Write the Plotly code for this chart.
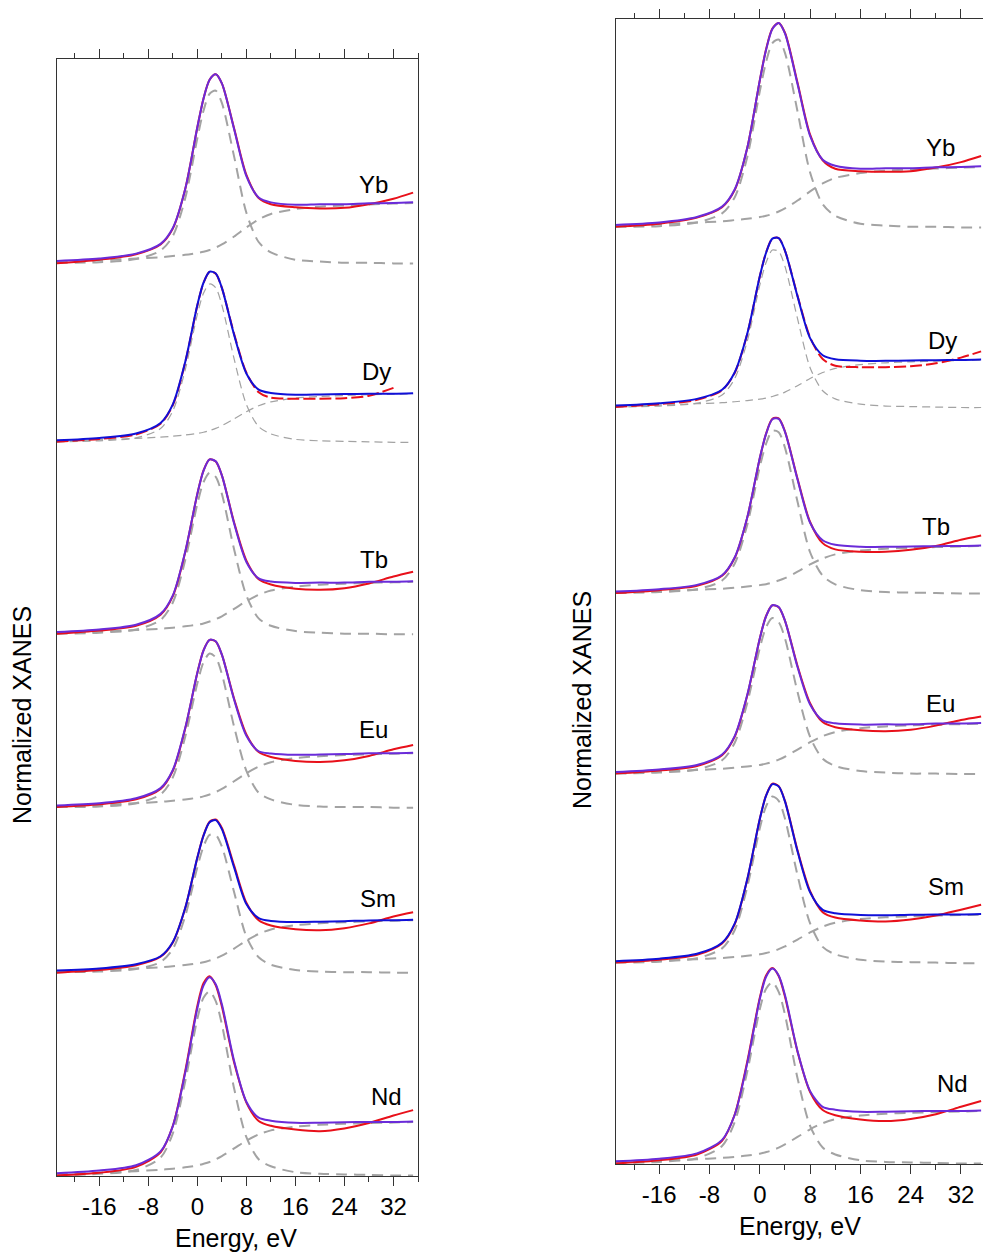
import plotly.graph_objects as go

# ---------------- data (normalized XANES, edge step ~ 1) ----------------
energy = [-23, -16, -10, -6, -4, -2, 0, 1, 2, 3, 4, 6, 8, 10, 12, 16, 20, 24, 28, 32, 35.2]
elements = ["Yb", "Dy", "Tb", "Eu", "Sm", "Nd"]
x_ticks = [-16, -8, 0, 8, 16, 24, 32]

# ---- left panel ----
L_Yb_data = [0.01,0.07,0.16,0.32,0.58,1.22,2.24,2.71,3.02,3.11,2.96,2.22,1.46,1.08,0.98,0.93,0.91,0.92,0.98,1.07,1.17]
L_Yb_peak = [0.02,0.03,0.08,0.22,0.46,1.07,2.06,2.51,2.79,2.84,2.64,1.76,0.84,0.36,0.19,0.07,0.04,0.02,0.02,0.01,0.01]
L_Yb_step = [0.03,0.06,0.09,0.11,0.13,0.15,0.18,0.20,0.23,0.27,0.32,0.45,0.60,0.73,0.82,0.90,0.94,0.96,0.975,0.99,1.0]

L_Dy_data = [0.02,0.08,0.17,0.39,0.77,1.63,2.80,3.26,3.49,3.45,3.16,2.22,1.43,1.03,0.92,0.90,0.90,0.91,0.96,1.12,None]
L_Dy_peak = [0.02,0.04,0.10,0.29,0.65,1.48,2.62,3.05,3.24,3.16,2.81,1.71,0.78,0.33,0.18,0.07,0.04,0.03,0.02,0.01,0.01]
L_Dy_step = [0.03,0.06,0.09,0.115,0.135,0.16,0.19,0.215,0.25,0.295,0.35,0.49,0.635,0.755,0.835,0.91,0.945,0.965,0.98,0.99,1.0]

L_Tb_data = [0.02,0.08,0.17,0.38,0.73,1.55,2.66,3.10,3.31,3.27,3.01,2.12,1.40,1.05,0.95,0.87,0.85,0.88,0.97,1.10,1.19]
L_Tb_peak = [0.02,0.04,0.10,0.28,0.61,1.40,2.47,2.88,3.06,2.98,2.66,1.61,0.74,0.31,0.17,0.07,0.04,0.02,0.02,0.01,0.01]
L_Tb_step = [0.03,0.06,0.09,0.115,0.135,0.16,0.19,0.215,0.25,0.295,0.35,0.49,0.635,0.755,0.835,0.91,0.945,0.965,0.98,0.99,1.0]

L_Eu_data = [0.02,0.07,0.16,0.35,0.68,1.44,2.46,2.87,3.06,3.03,2.79,1.99,1.34,1.02,0.93,0.86,0.84,0.87,0.95,1.07,1.15]
L_Eu_peak = [0.02,0.03,0.09,0.25,0.56,1.29,2.27,2.65,2.81,2.74,2.44,1.48,0.68,0.28,0.16,0.06,0.03,0.02,0.02,0.01,0.01]
L_Eu_step = [0.03,0.06,0.09,0.115,0.135,0.16,0.19,0.215,0.25,0.295,0.35,0.49,0.635,0.755,0.835,0.91,0.945,0.965,0.98,0.99,1.0]

L_Sm_data = [0.01,0.06,0.15,0.31,0.58,1.22,2.18,2.60,2.86,2.90,2.74,2.03,1.33,1.00,0.90,0.83,0.81,0.85,0.94,1.07,1.15]
L_Sm_peak = [0.02,0.03,0.08,0.21,0.46,1.07,2.00,2.39,2.61,2.61,2.39,1.53,0.69,0.30,0.16,0.06,0.03,0.02,0.02,0.01,0.01]
L_Sm_step = [0.03,0.06,0.09,0.11,0.13,0.155,0.185,0.205,0.24,0.28,0.33,0.465,0.615,0.74,0.825,0.905,0.942,0.962,0.977,0.99,1.0]

L_Nd_data = [0.01,0.06,0.17,0.44,0.93,1.93,3.15,3.57,3.70,3.53,3.14,2.10,1.36,1.02,0.93,0.86,0.83,0.88,0.98,1.12,1.22]
L_Nd_peak = [0.02,0.04,0.11,0.34,0.79,1.74,2.91,3.30,3.42,3.24,2.81,1.62,0.72,0.31,0.18,0.07,0.04,0.03,0.02,0.01,0.01]
L_Nd_step = [0.03,0.06,0.09,0.115,0.135,0.16,0.195,0.225,0.26,0.31,0.37,0.51,0.655,0.77,0.845,0.915,0.948,0.967,0.98,0.99,1.0]

L_offsets = [15.2, 12.22, 9.02, 6.13, 3.38, 0.0]
L_scales = [1.017, 0.817, 0.883, 0.917, 0.883, 0.9]
L_label_x = [28.7, 29.3, 28.8, 28.8, 29.5, 30.8]
L_label_y = [16.52, 13.4, 10.28, 7.45, 4.62, 1.33]

# ---- right panel ----
R_Yb_data = [0.02,0.07,0.17,0.34,0.62,1.31,2.42,2.93,3.27,3.36,3.20,2.38,1.53,1.11,0.97,0.93,0.92,0.93,0.99,1.08,1.18]
R_Yb_peak = [0.02,0.03,0.09,0.24,0.50,1.16,2.24,2.72,3.03,3.09,2.87,1.91,0.91,0.39,0.20,0.07,0.04,0.02,0.02,0.01,0.01]
R_Yb_step = [0.03,0.06,0.09,0.11,0.13,0.15,0.18,0.20,0.23,0.27,0.32,0.45,0.60,0.73,0.82,0.90,0.94,0.96,0.975,0.99,1.0]

R_Dy_data = [0.02,0.08,0.17,0.37,0.73,1.54,2.74,3.24,3.53,3.54,3.28,2.34,1.47,1.02,0.88,0.85,0.85,0.87,0.93,1.05,1.18]
R_Dy_peak = [0.02,0.04,0.10,0.27,0.61,1.39,2.56,3.03,3.29,3.26,2.95,1.86,0.84,0.36,0.19,0.08,0.04,0.03,0.02,0.01,0.01]
R_Dy_step = [0.03,0.06,0.09,0.11,0.13,0.155,0.185,0.205,0.24,0.28,0.33,0.465,0.615,0.74,0.825,0.905,0.942,0.962,0.977,0.99,1.0]

R_Tb_data = [0.02,0.08,0.17,0.38,0.75,1.59,2.83,3.34,3.65,3.66,3.39,2.40,1.50,1.06,0.93,0.88,0.88,0.92,1.00,1.13,1.22]
R_Tb_peak = [0.02,0.04,0.10,0.28,0.63,1.44,2.65,3.13,3.40,3.37,3.05,1.92,0.87,0.38,0.20,0.08,0.04,0.03,0.02,0.01,0.01]
R_Tb_step = [0.03,0.06,0.09,0.11,0.13,0.155,0.185,0.205,0.24,0.28,0.33,0.465,0.615,0.74,0.825,0.905,0.942,0.962,0.977,0.99,1.0]

R_Eu_data = [0.02,0.08,0.17,0.38,0.74,1.55,2.67,3.11,3.32,3.28,3.02,2.13,1.40,1.03,0.93,0.87,0.85,0.88,0.96,1.07,1.14]
R_Eu_peak = [0.02,0.04,0.10,0.28,0.62,1.40,2.48,2.89,3.07,2.99,2.67,1.62,0.74,0.31,0.17,0.07,0.04,0.02,0.02,0.01,0.01]
R_Eu_step = [0.03,0.06,0.09,0.115,0.135,0.16,0.19,0.215,0.25,0.295,0.35,0.49,0.635,0.755,0.835,0.91,0.945,0.965,0.98,0.99,1.0]

R_Sm_data = [0.02,0.08,0.18,0.41,0.80,1.71,2.95,3.43,3.67,3.62,3.32,2.31,1.48,1.05,0.94,0.88,0.86,0.90,0.98,1.10,1.20]
R_Sm_peak = [0.02,0.04,0.11,0.31,0.68,1.56,2.76,3.21,3.41,3.32,2.96,1.80,0.82,0.34,0.19,0.08,0.04,0.03,0.02,0.01,0.01]
R_Sm_step = [0.03,0.06,0.09,0.115,0.135,0.16,0.19,0.215,0.25,0.295,0.35,0.49,0.635,0.755,0.835,0.91,0.945,0.965,0.98,0.99,1.0]

R_Nd_data = [0.01,0.07,0.18,0.44,0.93,1.93,3.14,3.56,3.70,3.55,3.16,2.12,1.36,1.02,0.92,0.84,0.81,0.85,0.94,1.08,1.19]
R_Nd_peak = [0.02,0.04,0.11,0.34,0.79,1.74,2.92,3.31,3.43,3.25,2.82,1.62,0.72,0.31,0.18,0.07,0.04,0.03,0.02,0.01,0.01]
R_Nd_step = [0.03,0.06,0.09,0.115,0.135,0.16,0.195,0.225,0.26,0.31,0.37,0.51,0.655,0.77,0.845,0.915,0.948,0.967,0.98,0.99,1.0]

R_offsets = [15.6, 12.6, 9.5, 6.49, 3.34, 0.0]
R_scales = [1.017, 0.8, 0.8, 0.85, 0.817, 0.883]
R_label_x = [28.66, 29.1, 28.0, 28.8, 29.6, 30.7]
R_label_y = [16.95, 13.72, 10.63, 7.68, 4.63, 1.35]

# fit colour per element (purple where fit overlays data, blue for Dy/Sm)
fit_colors = ["#6a2bd9", "#1010d8", "#6a2bd9", "#6a2bd9", "#1010d8", "#6a2bd9"]

L_sets = [(L_Yb_data, L_Yb_peak, L_Yb_step), (L_Dy_data, L_Dy_peak, L_Dy_step),
          (L_Tb_data, L_Tb_peak, L_Tb_step), (L_Eu_data, L_Eu_peak, L_Eu_step),
          (L_Sm_data, L_Sm_peak, L_Sm_step), (L_Nd_data, L_Nd_peak, L_Nd_step)]
R_sets = [(R_Yb_data, R_Yb_peak, R_Yb_step), (R_Dy_data, R_Dy_peak, R_Dy_step),
          (R_Tb_data, R_Tb_peak, R_Tb_step), (R_Eu_data, R_Eu_peak, R_Eu_step),
          (R_Sm_data, R_Sm_peak, R_Sm_step), (R_Nd_data, R_Nd_peak, R_Nd_step)]

FONT = "Liberation Sans, Arial, sans-serif"
GREY = "#a3a3a3"
RED = "#e8101a"

fig = go.Figure()


def add_panel(sets, offsets, scales, xa, ya):
    for i, (data, peak, step) in enumerate(sets):
        off, sc = offsets[i], scales[i]
        thin = elements[i] == "Dy"
        gdash = "8px,5px" if thin else "11px,7px"
        gw = 1.2 if thin else 2.0
        fit = [p + s for p, s in zip(peak, step)]
        for comp in (peak, step):
            fig.add_trace(go.Scatter(
                x=energy, y=[off + sc * v for v in comp], mode="lines",
                line=dict(color=GREY, width=gw, dash=gdash, shape="spline", smoothing=0.8),
                xaxis=xa, yaxis=ya, showlegend=False, hoverinfo="skip"))
        fig.add_trace(go.Scatter(
            x=energy, y=[None if v is None else off + sc * v for v in data], mode="lines",
            line=dict(color=RED, width=2.0, dash="12px,4px" if thin else "solid",
                      shape="spline", smoothing=0.8),
            xaxis=xa, yaxis=ya, showlegend=False, hoverinfo="skip"))
        fig.add_trace(go.Scatter(
            x=energy, y=[off + sc * v for v in fit], mode="lines",
            line=dict(color=fit_colors[i], width=2.0, shape="spline", smoothing=0.8),
            xaxis=xa, yaxis=ya, showlegend=False, hoverinfo="skip"))


add_panel(L_sets, L_offsets, L_scales, "x", "y")
add_panel(R_sets, R_offsets, R_scales, "x2", "y2")

for i, el in enumerate(elements):
    fig.add_annotation(x=L_label_x[i], y=L_label_y[i], xref="x", yref="y", text=el,
                       showarrow=False, xanchor="center", yanchor="middle",
                       font=dict(family=FONT, size=24, color="black"))
    fig.add_annotation(x=R_label_x[i], y=R_label_y[i], xref="x2", yref="y2", text=el,
                       showarrow=False, xanchor="center", yanchor="middle",
                       font=dict(family=FONT, size=24, color="black"))

W, H = 983, 1253
AX = "#333333"


def xaxis_cfg(rng, dom, anchor):
    return dict(domain=dom, range=rng, anchor=anchor, showgrid=False, zeroline=False,
                tickvals=x_ticks, ticktext=[str(t) for t in x_ticks],
                ticks="outside", ticklen=9, tickwidth=1, tickcolor=AX,
                minor=dict(dtick=4, tick0=0, ticks="outside", ticklen=5, tickwidth=1, tickcolor=AX),
                showline=True, linecolor=AX, linewidth=1, mirror="allticks",
                tickfont=dict(family=FONT, size=24, color="black"))


def yaxis_cfg(rng, dom, anchor, mirror):
    return dict(domain=dom, range=rng, anchor=anchor, showgrid=False, zeroline=False,
                showticklabels=False, ticks="", showline=True, linecolor=AX, linewidth=1,
                mirror=mirror)


fig.update_layout(
    width=W, height=H, margin=dict(l=0, r=0, t=0, b=0),
    paper_bgcolor="white", plot_bgcolor="white", showlegend=False,
    xaxis=xaxis_cfg([-22.9, 36.0], [57 / W, 418 / W], "y"),
    yaxis=yaxis_cfg([0, 1117 / 60], [(H - 1176) / H, (H - 59) / H], "x", True),
    xaxis2=xaxis_cfg([-22.92, 35.5], [615.7 / W, 1.0], "y2"),
    yaxis2=yaxis_cfg([0, 1145 / 60], [(H - 1164) / H, (H - 19) / H], "x2", False),
)

# axis titles
title_font = dict(family=FONT, size=25, color="black")
fig.add_annotation(x=236 / W, y=1 - 1238 / H, xref="paper", yref="paper", text="Energy, eV",
                   showarrow=False, xanchor="center", yanchor="middle", font=title_font)
fig.add_annotation(x=800 / W, y=1 - 1226 / H, xref="paper", yref="paper", text="Energy, eV",
                   showarrow=False, xanchor="center", yanchor="middle", font=title_font)
fig.add_annotation(x=22 / W, y=1 - 715 / H, xref="paper", yref="paper", text="Normalized XANES",
                   textangle=-90, showarrow=False, xanchor="center", yanchor="middle", font=title_font)
fig.add_annotation(x=582 / W, y=1 - 700 / H, xref="paper", yref="paper", text="Normalized XANES",
                   textangle=-90, showarrow=False, xanchor="center", yanchor="middle", font=title_font)

fig.write_html(
    "out.html",
    config={"displayModeBar": False, "staticPlot": True},
    post_script="document.body.style.margin='0';document.body.style.overflow='hidden';"
                "document.documentElement.style.overflow='hidden';",
)
